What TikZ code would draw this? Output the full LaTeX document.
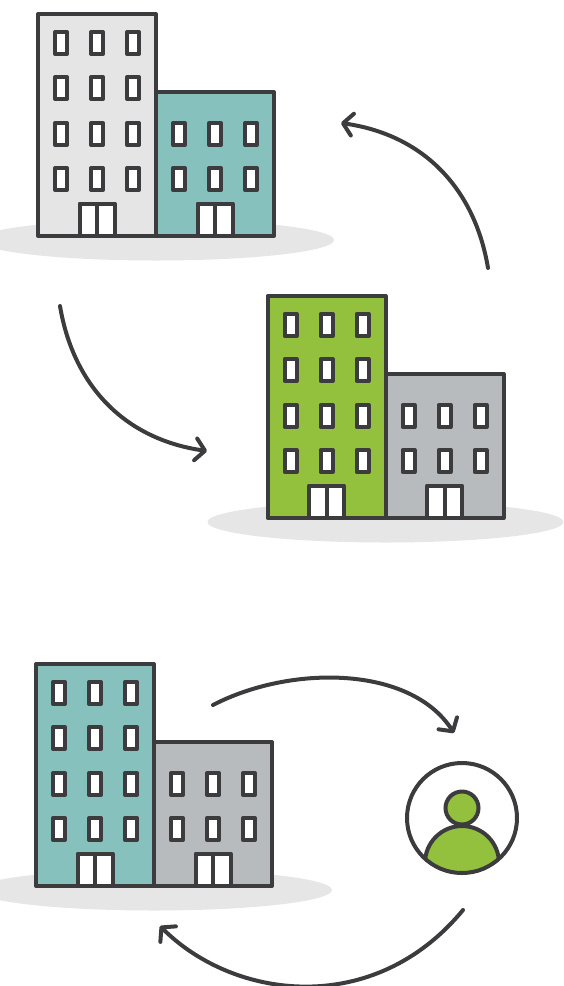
\documentclass[tikz,border=0pt]{standalone}
\usetikzlibrary{arrows.meta}
\definecolor{ink}{HTML}{3C3C3E}
\definecolor{ground}{HTML}{E6E6E6}
\definecolor{pale}{HTML}{E5E5E5}
\definecolor{aqua}{HTML}{87C1BE}
\definecolor{leaf}{HTML}{94C13D}
\definecolor{steel}{HTML}{B7BBBE}
\tikzset{
  x=1pt,y=-1pt,
  outline/.style={draw=ink,line width=4pt,line join=round},
  pane/.style={draw=ink,fill=white,line width=4pt,line join=round},
  curved/.style={draw=ink,line width=4pt,line cap=round,
    -{Straight Barb[length=9.5pt,width=22pt,line width=4pt,round]}},
  block/.pic={
    \fill[ground] (118,226) ellipse [x radius=178,y radius=20.5];
    \draw[outline,fill=\lowcol] (118,78) rectangle (236,222);
    \draw[outline,fill=\tallcol] (0,0) rectangle (118,222);
    \foreach \px in {23,59,95}
      \foreach \py in {29,74,120,165}
        \draw[pane] (\px-6,\py-11) rectangle (\px+6,\py+11);
    \foreach \px in {141,177,213}
      \foreach \py in {120,165}
        \draw[pane] (\px-6,\py-11) rectangle (\px+6,\py+11);
    \foreach \px in {59,177} {
      \draw[outline,fill=white] (\px-17.5,189.5) rectangle (\px+17.5,222);
      \draw[draw=ink,line width=4pt] (\px,189.5) -- (\px,222);
    }
  }
}
\begin{document}
\begin{tikzpicture}
\useasboundingbox (0,0) rectangle (563,986);
\clip (0,0) rectangle (563,986);
\def\tallcol{pale}\def\lowcol{aqua}
\pic at (38,14) {block};
\def\tallcol{leaf}\def\lowcol{steel}
\pic at (267.5,296) {block};
\def\tallcol{aqua}\def\lowcol{steel}
\pic at (36,664) {block};
% person
\coordinate (disc) at (462,818);
\fill[white] (disc) circle [radius=55];
\begin{scope}
\clip (disc) circle [radius=55];
\draw[draw=ink,fill=leaf,line width=4pt] (462,863) circle [radius=37];
\end{scope}
\draw[draw=ink,line width=4pt] (disc) circle [radius=55];
\node[circle,draw=ink,fill=leaf,line width=4pt,minimum size=33pt,inner sep=0pt] (head) at (462,808) {};
% connectors
\coordinate (a1) at (488,268); \coordinate (b1) at (341,123);
\coordinate (a2) at (60,306);  \coordinate (b2) at (207,451);
\coordinate (a3) at (213,705); \coordinate (b3) at (454,733);
\coordinate (a4) at (463,910); \coordinate (b4) at (160,926);
\draw[curved] (a1) .. controls (475,190) and (425,135) .. (b1);
\draw[curved] (a2) .. controls (73,384) and (123,439) .. (b2);
\draw[curved] (a3) .. controls (290,665) and (410,665) .. (b3);
\draw[curved] (a4) .. controls (374,1018) and (234,1000) .. (b4);
\end{tikzpicture}
\end{document}
